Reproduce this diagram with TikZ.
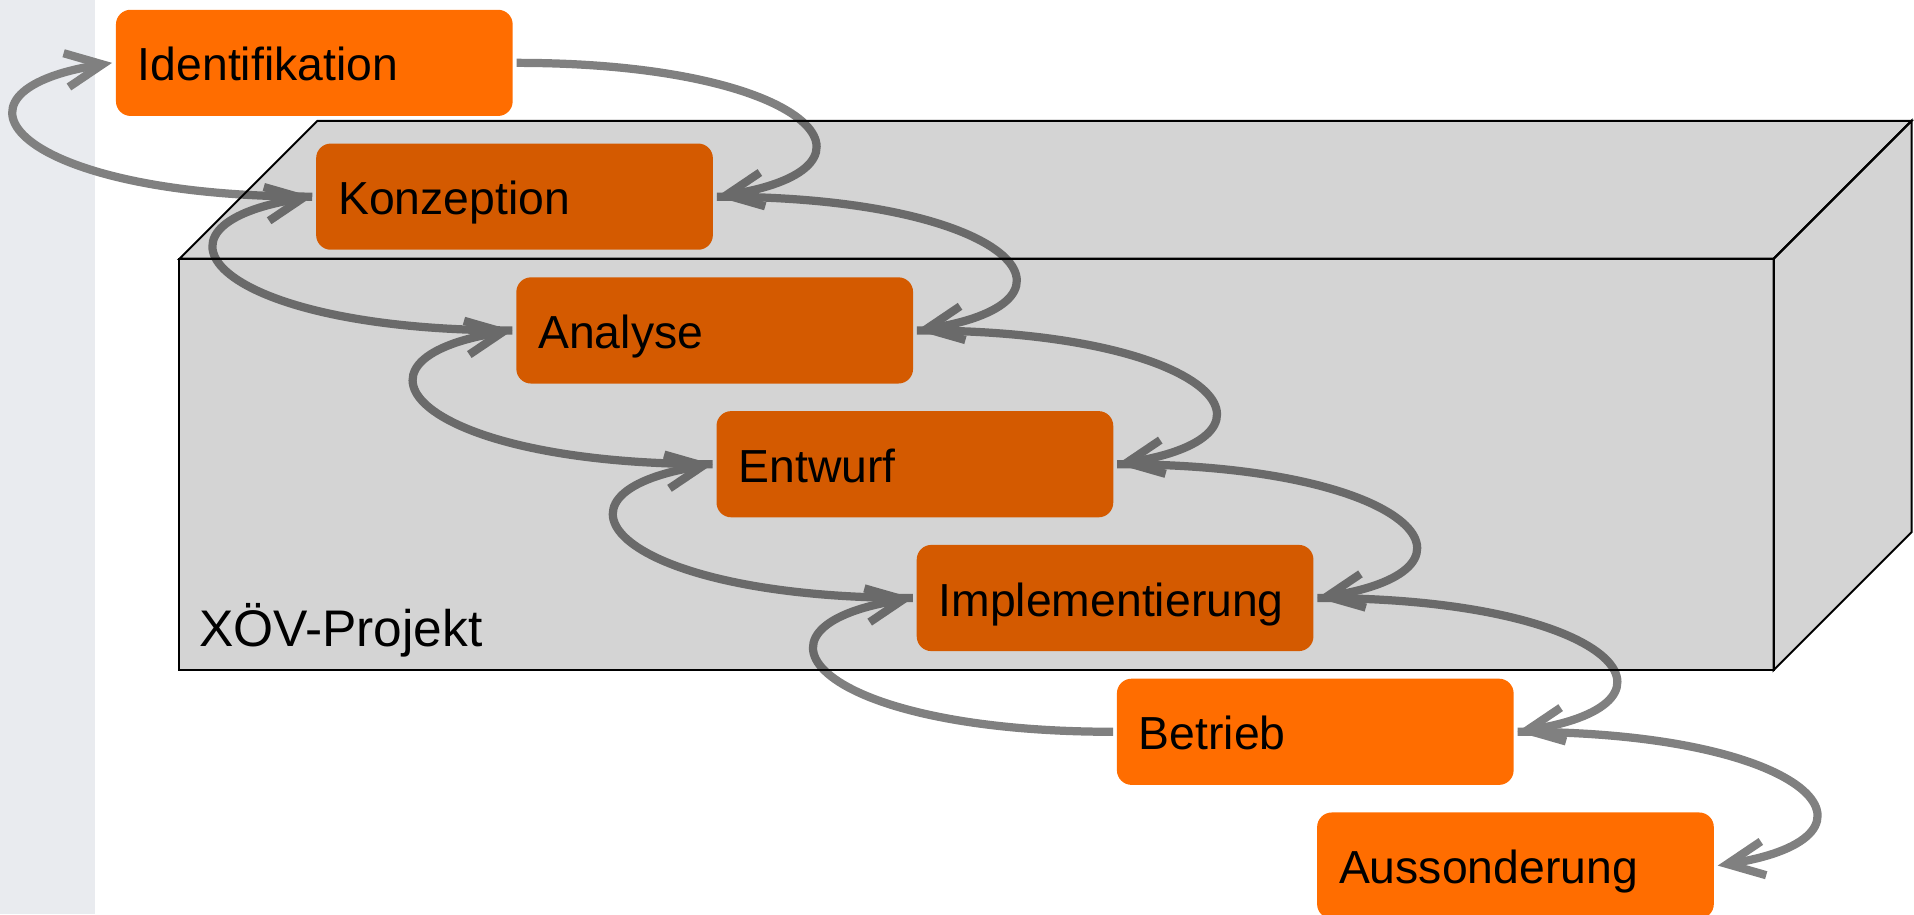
\documentclass[tikz,border=0pt]{standalone}
\usepackage{fontspec}
\setmainfont{Liberation Sans}
\usetikzlibrary{shapes, positioning, arrows.meta}
\definecolor{phaseorange}{RGB}{255,109,0}
\definecolor{linkgray}{RGB}{128,128,128}
\definecolor{stripgray}{RGB}{233,235,239}
\tikzset{
>={Straight Barb[length=0.75cm, width=0.7cm]}, % open arrow heads
node distance=2.74cm, % vertical step between two phases
}
\tikzstyle{phase} = [rectangle, fill=phaseorange, rounded corners=0.3cm,
    text width=7.225cm, align=left, inner xsep=0.45cm, outer sep=0.08cm,
    minimum height=2.175cm, text height=26pt, text depth=5pt,
    font=\fontsize{27}{32}\selectfont]
\tikzstyle{link} = [draw=linkgray, line width=4.8pt, ->]
\tikzstyle{fwd} = [out=0, in=9, out distance=6.1cm, in distance=3.8cm]
\tikzstyle{back} = [out=180, in=189, out distance=6.1cm, in distance=3.8cm]
\tikzstyle{cube} = [draw=black, line width=1.2pt, fill=black, fill opacity=0.17]

\begin{document}
\begin{tikzpicture}
\useasboundingbox (0,0) rectangle (39.2,18.725);
\fill [stripgray] (0,0) rectangle (1.95,18.725);

\node [phase] (ident) at (6.4375,17.4375) {Identifikation};
\node [phase, below of=ident, xshift=4.1cm] (konz) {Konzeption};
\node [phase, below of=konz, xshift=4.1cm] (anal) {Analyse};
\node [phase, below of=anal, xshift=4.1cm] (entw) {Entwurf};
\node [phase, below of=entw, xshift=4.1cm] (impl) {Implementierung};
\node [phase, below of=impl, xshift=4.1cm] (betr) {Betrieb};
\node [phase, below of=betr, xshift=4.1cm] (auss) {Aussonderung};

  % right side: one phase to the next
  \path [link] (ident.east) to[fwd] (konz.east);
  \path [link] (konz.east) to[fwd] (anal.east);
  \path [link] (anal.east) to[fwd] (entw.east);
  \path [link] (entw.east) to[fwd] (impl.east);
  \path [link] (impl.east) to[fwd] (betr.east);
  \path [link] (betr.east) to[fwd] (auss.east);
  % left side: back to the phase before
  \path [link] (konz.west) to[back] (ident.west);
  \path [link] (anal.west) to[back] (konz.west);
  \path [link] (entw.west) to[back] (anal.west);
  \path [link] (impl.west) to[back] (entw.west);
  \path [link] (betr.west) to[back] (impl.west);

% the project box
\filldraw [cube] (3.675,5) rectangle (36.325,13.425);
\filldraw [cube] (3.675,13.425) -- (6.5,16.25) -- (39.15,16.25) -- (36.325,13.425) -- cycle;
\filldraw [cube] (36.325,13.425) -- (39.15,16.25) -- (39.15,7.825) -- (36.325,5) -- cycle;
\node [anchor=base west, inner sep=0pt, font=\fontsize{30}{36}\selectfont] (proj) at (4.075,5.475) {XÖV-Projekt};

\end{tikzpicture}
\end{document}
